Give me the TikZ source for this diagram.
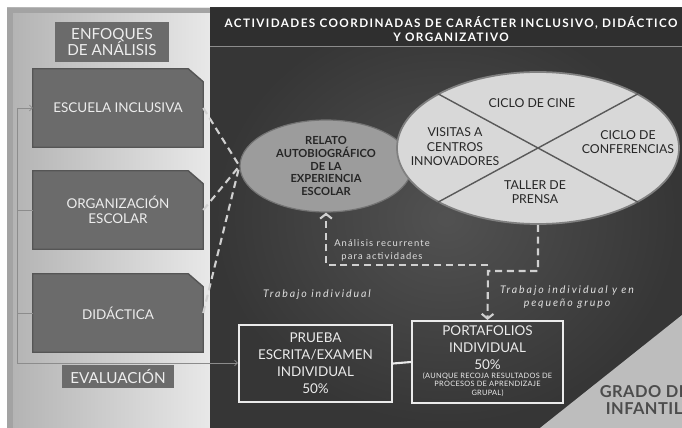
\documentclass[tikz,border=0pt]{standalone}
\usepackage{fontspec}
\setmainfont{Lato}
\usetikzlibrary{positioning,shapes.geometric,calc,arrows.meta}
\pgfdeclarelayer{fondo}
\pgfdeclarelayer{marcos}
\pgfsetlayers{fondo,marcos,main}

\definecolor{cajagris}{HTML}{6B6B6B}
\definecolor{bordegris}{HTML}{555555}
\definecolor{relatogris}{HTML}{9C9C9C}
\definecolor{elipseclara}{HTML}{D8D8D8}
\definecolor{trazo}{HTML}{D0D0D0}
\definecolor{textooscuro}{HTML}{262626}
\definecolor{cabecera}{HTML}{2F2F2F}
\definecolor{gradogris}{HTML}{BDBDBD}
\newcommand{\chica}{\fontsize{6.3}{7.4}\selectfont\addfontfeatures{LetterSpace=4}}

\tikzset{
  titulo/.style={text=white, align=center, font=\bfseries\fontsize{10}{12}\selectfont\addfontfeatures{LetterSpace=12}},
  etiqueta/.style={fill=cajagris, text=white!93!black, align=center, inner sep=0pt},
  enfoque/.style={minimum width=5.1cm, minimum height=2.34cm, text=white!93!black, align=center, font=\fontsize{11.5}{13}\selectfont},
  marco/.style={fill=cajagris, draw=bordegris, line width=1.2pt},
  relato/.style={ellipse, fill=relatogris, draw=black!55, line width=1pt, minimum width=5.16cm, minimum height=2.76cm, inner sep=0pt, align=center, text=textooscuro, font=\bfseries\fontsize{9.5}{11}\selectfont},
  grupoactividades/.style={ellipse, fill=elipseclara, draw=black!50, line width=1.5pt, minimum width=8.46cm, minimum height=4.56cm},
  cruz/.style={draw=black!65, line width=1.2pt},
  textociclo/.style={align=center, text=textooscuro, font=\fontsize{10.5}{12.3}\selectfont},
  discontinua/.style={draw=trazo, line width=1.8pt, dash pattern=on 6pt off 4pt},
  nota/.style={text=white!88!black, align=center, font=\fontsize{8}{11}\selectfont\addfontfeatures{LetterSpace=12}},
  cursiva/.style={text=white!88!black, align=center, font=\itshape\fontsize{9}{11}\selectfont\addfontfeatures{LetterSpace=18}},
  evaluacion/.style={draw=white!92!black, line width=1.8pt, text=white!92!black, align=center, inner sep=0pt, font=\fontsize{11.5}{14.4}\selectfont},
  grado/.style={text=black!70, align=center, font=\bfseries\fontsize{14}{14.5}\selectfont\addfontfeatures{LetterSpace=3}},
  lazo/.style={draw=black!45, line width=0.6pt}
}

\begin{document}
\begin{tikzpicture}[x=0.03cm, y=-0.03cm, >={Straight Barb[length=4pt,width=10pt]}]
\useasboundingbox (0,0) rectangle (682,428);
\clip (0,0) rectangle (682,428);

% fondos
\begin{pgfonlayer}{fondo}
\fill[white] (0,0) rectangle (682,428);
\shade[left color=black!30, right color=black!9] (7,8) rectangle (210,428);
\fill[black!36] (7,8) rectangle (13,428);
\fill[black!36] (7,8) rectangle (210,13);
\shade[inner color=black!68, outer color=black!79] (210,8) rectangle (682,428);
\fill[cabecera] (210,8) rectangle (682,46);
\draw[black!45, line width=0.8pt] (210,46) -- (682,46);
\fill[gradogris] (540,428) -- (682,315) -- (682,428) -- cycle;
\end{pgfonlayer}

\node[titulo] (encabezado) at (451,29) {ACTIVIDADES COORDINADAS DE CARÁCTER INCLUSIVO, DIDÁCTICO\\Y ORGANIZATIVO};

% enfoques de analisis
\node[etiqueta, minimum width=3.39cm, minimum height=1.2cm, font=\fontsize{13}{14}\selectfont] (enfoques) at (112,42) {ENFOQUES\\DE ANÁLISIS};
\node[enfoque] (esc) at (118,108) {ESCUELA INCLUSIVA};
\node[enfoque] (org) at (118,210) {ORGANIZACIÓN\\ESCOLAR};
\node[enfoque] (did) at (118,313) {DIDÁCTICA};
\node[etiqueta, minimum width=3.36cm, minimum height=0.69cm, font=\fontsize{13}{14}\selectfont] (eval) at (118,376.5) {EVALUACIÓN};

\begin{pgfonlayer}{marcos}
\foreach \caja in {esc,org,did}
  \filldraw[marco] (\caja.south west) -- (\caja.north west) -- ($(\caja.north east)+(-15,0)$) -- ($(\caja.north east)+(0,13)$) -- (\caja.south east) -- cycle;
\end{pgfonlayer}

% actividades
\node[relato] (relato) at (326,166) {RELATO\\AUTOBIOGRÁFICO\\DE LA\\EXPERIENCIA\\ESCOLAR};
\node[grupoactividades] (ciclos) at (538,148) {};
\draw[cruz] (ciclos.north west) -- (ciclos.south east);
\draw[cruz] (ciclos.north east) -- (ciclos.south west);
\node[textociclo] (cine) at ([shift={(-6,-45)}]ciclos.center) {CICLO DE CINE};
\node[textociclo] (visitas) at ([shift={(-83,-1)}]ciclos.center) {VISITAS A\\CENTROS\\INNOVADORES};
\node[textociclo] (conferencias) at ([shift={(90,-6)}]ciclos.center) {CICLO DE\\CONFERENCIAS};
\node[textociclo] (taller) at ([shift={(-3,44)}]ciclos.center) {TALLER DE\\PRENSA};

% evaluacion
\node[evaluacion, minimum width=4.59cm, minimum height=2.31cm] (prueba) at (315.5,363.5) {PRUEBA\\ESCRITA/EXAMEN\\INDIVIDUAL\\50\%};
\node[evaluacion, minimum width=4.53cm, minimum height=2.46cm] (porta) at (487.5,362) {PORTAFOLIOS\\INDIVIDUAL\\50\%\\[-7pt]{\chica\begin{tabular}[t]{@{}c@{}}(AUNQUE RECOJA RESULTADOS DE\\PROCESOS DE APRENDIZAJE\\GRUPAL)\end{tabular}}};
\draw[evaluacion] (prueba.east) -- (porta.west);

\node[nota] (analisis) at (382,250) {Análisis recurrente\\para actividades};
\node[cursiva] (individual) at (317,295) {Trabajo individual};
\node[cursiva] (grupo) at (567,297) {Trabajo individual y en\\pequeño grupo};
\node[grado] (grado) at (644,400) {GRADO DE\\INFANTIL};

% conexiones
\foreach \caja in {esc,org,did}
  \draw[discontinua] (\caja.east) -- (relato.west);
\coordinate (bajada) at (488,271);
\coordinate (retorno) at (488,265);
\draw[discontinua,->] (ciclos.south) |- (bajada) -- (porta.north);
\draw[discontinua,->] (retorno) -| (relato.south);

\coordinate (esquina) at (17,363);
\draw[lazo, -{Straight Barb[length=2.5pt,width=5pt]}] (esquina) -- (esquina -| prueba.west);
\draw[lazo, -{Straight Barb[length=2.5pt,width=5pt]}] (esquina) |- (esc.west);
\draw[lazo] (org.west -| esquina) -- (org.west);
\draw[lazo] (did.west -| esquina) -- (did.west);
\end{tikzpicture}
\end{document}
